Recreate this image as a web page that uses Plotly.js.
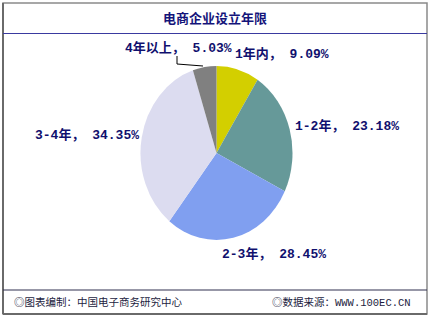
<!DOCTYPE html>
<html><head><meta charset="utf-8">
<script src="https://cdn.plot.ly/plotly-3.0.1.min.js"></script>
<style>
html,body{margin:0;padding:0;background:#fff;}
#wrap{position:relative;width:430px;height:318px;overflow:hidden;}
#pie,#frame{position:absolute;left:0;top:0;width:430px;height:318px;}
#pie{transform-origin:216.5px 153px;transform:scaleY(1.145);}
</style></head>
<body><div id="wrap"><div id="pie"></div><div id="frame"></div></div>
<script>
var title = "电商企业设立年限";
var categories = ["1年内", "1-2年", "2-3年", "3-4年", "4年以上"];
var values = [9.09, 23.18, 28.45, 34.35, 5.03];
var colors = ["#D3CF00", "#669999", "#809FF0", "#DCDCF0", "#808080"];
var footerLeft = "◎图表编制：中国电子商务研究中心";
var footerRight = "◎数据来源：WWW.100EC.CN";

var W = 430, H = 318;
function px(x){return x/W;}
function py(y){return 1 - y/H;}

// pie (scaled vertically with CSS to get the elliptical look)
var cx = 216.5, cy = 153, r = 76;
Plotly.newPlot('pie', [{
  type: 'pie', values: values, labels: categories, sort: false,
  direction: 'clockwise', rotation: 0,
  marker: {colors: colors, line: {width: 0}},
  textinfo: 'none', hoverinfo: 'none', showlegend: false,
  domain: {x: [px(cx - r), px(cx + r)], y: [py(cy + r), py(cy - r)]}
}], {
  width: W, height: H, margin: {l:0, r:0, t:0, b:0},
  paper_bgcolor: 'rgba(0,0,0,0)', plot_bgcolor: 'rgba(0,0,0,0)'
}, {staticPlot: true});

var labelFont = {family: "'Liberation Mono', 'Noto Sans CJK SC', monospace", size: 13, color: '#10106e', weight: 'bold'};
// label anchor positions (left edge x, center y) in pixels
var labelPos = [[233, 54], [293, 126], [220, 254], [33, 135], [123, 48]];
var annotations = [{
  text: '<b>' + title + '</b>', x: px(215), y: py(18), xref: 'paper', yref: 'paper',
  showarrow: false, xanchor: 'center', yanchor: 'middle',
  font: {family: "'Noto Sans CJK SC', sans-serif", size: 13, color: '#14147a'}
}];
for (var i = 0; i < categories.length; i++) {
  annotations.push({
    text: categories[i] + '，' + ' ' + values[i].toFixed(2) + '%',
    x: px(labelPos[i][0]), y: py(labelPos[i][1]), xref: 'paper', yref: 'paper',
    showarrow: false, xanchor: 'left', yanchor: 'middle', font: labelFont
  });
}
var footFont = {family: "'Liberation Mono', 'Noto Sans CJK SC', monospace", size: 10.5, color: '#1c1c40'};
annotations.push({text: footerLeft, x: px(12), y: py(302), xref: 'paper', yref: 'paper',
  showarrow: false, xanchor: 'left', yanchor: 'middle', font: footFont});
annotations.push({text: footerRight, x: px(270), y: py(302), xref: 'paper', yref: 'paper',
  showarrow: false, xanchor: 'left', yanchor: 'middle', font: footFont});

var shapes = [
  {type: 'rect', xref: 'paper', yref: 'paper', x0: px(3), x1: px(427), y0: py(314), y1: py(3),
   line: {color: '#8a8a8a', width: 1.5}},
  {type: 'line', xref: 'paper', yref: 'paper', x0: px(3), x1: px(3), y0: py(3), y1: py(314),
   line: {color: '#6a6a6a', width: 2}},
  {type: 'line', xref: 'paper', yref: 'paper', x0: px(3), x1: px(427), y0: py(314), y1: py(314),
   line: {color: '#6a6a6a', width: 2}},
  {type: 'line', xref: 'paper', yref: 'paper', x0: px(3), x1: px(427), y0: py(33.5), y1: py(33.5),
   line: {color: '#3a3aa0', width: 1.2}},
  {type: 'line', xref: 'paper', yref: 'paper', x0: px(3), x1: px(427), y0: py(290), y1: py(290),
   line: {color: '#303050', width: 1.2}},
  {type: 'path', xref: 'paper', yref: 'paper',
   path: 'M ' + px(177) + ',' + py(56) + ' L ' + px(177) + ',' + py(64) + ' L ' + px(203) + ',' + py(66),
   line: {color: '#000000', width: 1}}
];

Plotly.newPlot('frame', [], {
  width: W, height: H, margin: {l:0, r:0, t:0, b:0},
  paper_bgcolor: 'rgba(0,0,0,0)', plot_bgcolor: 'rgba(0,0,0,0)',
  xaxis: {visible: false}, yaxis: {visible: false},
  annotations: annotations, shapes: shapes
}, {staticPlot: true});
</script></body></html>
